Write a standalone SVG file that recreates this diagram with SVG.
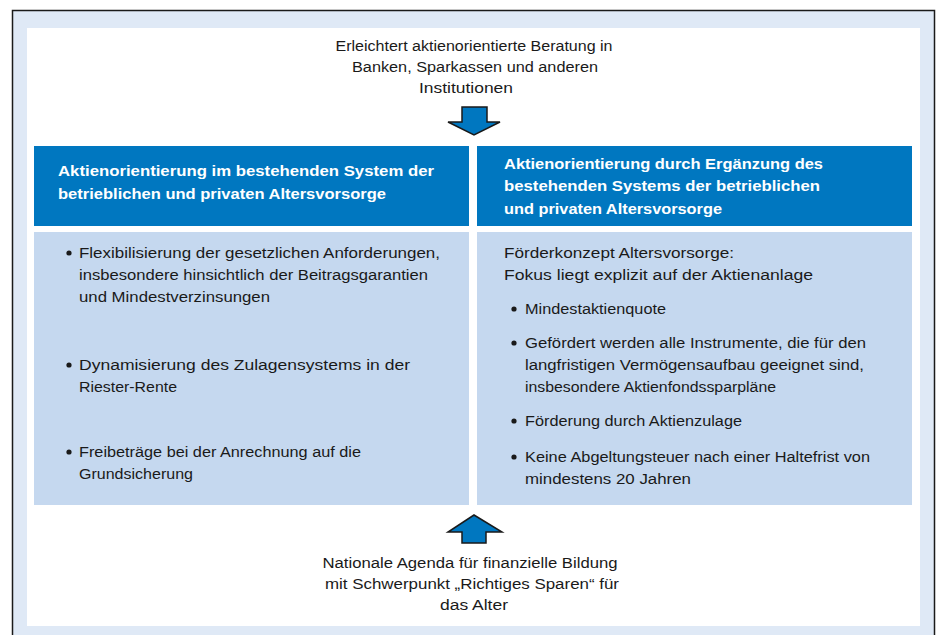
<svg xmlns="http://www.w3.org/2000/svg" width="937" height="635" viewBox="0 0 937 635">
<style>
.t{font-family:"Liberation Sans",Arial,sans-serif;font-size:15.5px;fill:#1a1a1a}
.c{text-anchor:middle}
.h{font-family:"Liberation Sans",Arial,sans-serif;font-size:15.5px;font-weight:bold;fill:#ffffff}
.hdr{fill:#0077c0}
.pnl{fill:#c5d8ef}
.arr{fill:#0077c0;stroke:#1a1a1a;stroke-width:1.5;stroke-linejoin:miter}
</style>
<rect x="12.5" y="10.5" width="922" height="630" fill="#dfe9f6" stroke="#1a1a1a" stroke-width="1.5"/>
<rect x="27" y="28" width="893" height="598" fill="#ffffff"/>

<g id="top-text">
<text class="t c" x="474" y="51" textLength="277" lengthAdjust="spacingAndGlyphs">Erleichtert aktienorientierte Beratung in</text>
<text class="t c" x="475" y="72" textLength="246" lengthAdjust="spacingAndGlyphs">Banken, Sparkassen und anderen</text>
<text class="t c" x="466" y="93" textLength="94" lengthAdjust="spacingAndGlyphs">Institutionen</text>
</g>

<g id="left-header">
<rect class="hdr" x="34" y="146" width="435" height="80"/>
<text class="h" x="58" y="176" textLength="376" lengthAdjust="spacingAndGlyphs">Aktienorientierung im bestehenden System der</text>
<text class="h" x="58" y="199" textLength="328" lengthAdjust="spacingAndGlyphs">betrieblichen und privaten Altersvorsorge</text>
</g>

<g id="right-header">
<rect class="hdr" x="477" y="146" width="435" height="80"/>
<text class="h" x="504" y="169" textLength="319" lengthAdjust="spacingAndGlyphs">Aktienorientierung durch Ergänzung des</text>
<text class="h" x="504" y="191" textLength="316" lengthAdjust="spacingAndGlyphs">bestehenden Systems der betrieblichen</text>
<text class="h" x="504" y="214" textLength="218" lengthAdjust="spacingAndGlyphs">und privaten Altersvorsorge</text>
</g>

<g id="left-panel">
<rect class="pnl" x="34" y="232" width="435" height="273"/>
<circle cx="69" cy="253" r="2.6" fill="#1a1a1a"/>
<text class="t" x="79" y="258" textLength="361" lengthAdjust="spacingAndGlyphs">Flexibilisierung der gesetzlichen Anforderungen,</text>
<text class="t" x="79" y="280" textLength="349" lengthAdjust="spacingAndGlyphs">insbesondere hinsichtlich der Beitragsgarantien</text>
<text class="t" x="79" y="302" textLength="191" lengthAdjust="spacingAndGlyphs">und Mindestverzinsungen</text>
<circle cx="69" cy="365" r="2.6" fill="#1a1a1a"/>
<text class="t" x="79" y="370" textLength="331" lengthAdjust="spacingAndGlyphs">Dynamisierung des Zulagensystems in der</text>
<text class="t" x="79" y="392" textLength="98" lengthAdjust="spacingAndGlyphs">Riester-Rente</text>
<circle cx="69" cy="452" r="2.6" fill="#1a1a1a"/>
<text class="t" x="79" y="457" textLength="282" lengthAdjust="spacingAndGlyphs">Freibeträge bei der Anrechnung auf die</text>
<text class="t" x="79" y="479" textLength="114" lengthAdjust="spacingAndGlyphs">Grundsicherung</text>
</g>

<g id="right-panel">
<rect class="pnl" x="477" y="232" width="435" height="273"/>
<text class="t" x="504" y="258" textLength="230" lengthAdjust="spacingAndGlyphs">Förderkonzept Altersvorsorge:</text>
<text class="t" x="504" y="280" textLength="309" lengthAdjust="spacingAndGlyphs">Fokus liegt explizit auf der Aktienanlage</text>
<circle cx="514" cy="309" r="2.6" fill="#1a1a1a"/>
<text class="t" x="525" y="314" textLength="141" lengthAdjust="spacingAndGlyphs">Mindestaktienquote</text>
<circle cx="514" cy="343" r="2.6" fill="#1a1a1a"/>
<text class="t" x="525" y="348" textLength="341" lengthAdjust="spacingAndGlyphs">Gefördert werden alle Instrumente, die für den</text>
<text class="t" x="525" y="370" textLength="339" lengthAdjust="spacingAndGlyphs">langfristigen Vermögensaufbau geeignet sind,</text>
<text class="t" x="525" y="392" textLength="251" lengthAdjust="spacingAndGlyphs">insbesondere Aktienfondssparpläne</text>
<circle cx="514" cy="421" r="2.6" fill="#1a1a1a"/>
<text class="t" x="525" y="426" textLength="217" lengthAdjust="spacingAndGlyphs">Förderung durch Aktienzulage</text>
<circle cx="514" cy="457" r="2.6" fill="#1a1a1a"/>
<text class="t" x="525" y="462" textLength="345" lengthAdjust="spacingAndGlyphs">Keine Abgeltungsteuer nach einer Haltefrist von</text>
<text class="t" x="525" y="484" textLength="166" lengthAdjust="spacingAndGlyphs">mindestens 20 Jahren</text>
</g>

<g id="bottom-text">
<text class="t c" x="470" y="568" textLength="295" lengthAdjust="spacingAndGlyphs">Nationale Agenda für finanzielle Bildung</text>
<text class="t c" x="472" y="589" textLength="294" lengthAdjust="spacingAndGlyphs">mit Schwerpunkt „Richtiges Sparen“ für</text>
<text class="t c" x="474" y="610" textLength="68" lengthAdjust="spacingAndGlyphs">das Alter</text>
</g>

<g id="connectors">
<polygon class="arr" points="462,107 487,107 487,122 500,122 474,135 448,122 462,122"/>
<polygon class="arr" points="474,515 502,532 486,532 486,543 462,543 462,532 448,532"/>
</g>
</svg>
